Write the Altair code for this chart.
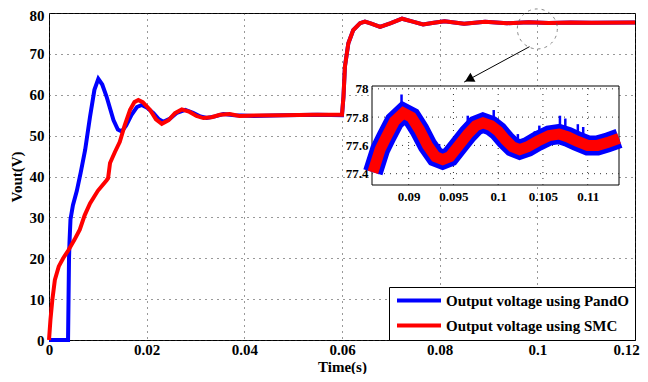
import altair as alt
import pandas as pd

FONT = "Liberation Serif"

# ---------------- main series (Time in s, Vout in V) ----------------
pando_t = [0.0, 0.0039, 0.0040, 0.0041, 0.0042, 0.0044, 0.0049, 0.0057, 0.0065, 0.0074,
           0.0084, 0.0093, 0.0101, 0.0109, 0.0118, 0.0132, 0.0141, 0.0149, 0.0158, 0.0169,
           0.0180, 0.0190, 0.0201, 0.0214, 0.0225, 0.0234, 0.0248, 0.0262, 0.0279, 0.0295,
           0.0310, 0.0323, 0.0340, 0.0357, 0.0380, 0.0420, 0.0480, 0.0550, 0.0600,
           0.0603, 0.0606, 0.0613, 0.0623, 0.0637, 0.0647, 0.0660, 0.0678, 0.0700, 0.0723,
           0.0745, 0.0766, 0.0788, 0.0810, 0.0830, 0.0850, 0.0893, 0.0938, 0.0982, 0.1023,
           0.1068, 0.1111, 0.1200]
pando_v = [0.0, 0.0, 10.0, 20.0, 24.0, 29.5, 33.0, 36.5, 41.0, 46.5,
           54.6, 61.2, 63.9, 62.5, 59.5, 53.8, 51.5, 51.0, 52.5, 55.1,
           57.0, 57.5, 56.8, 55.5, 54.0, 53.4, 54.2, 55.6, 56.3, 55.6,
           54.7, 54.3, 54.7, 55.3, 55.0, 54.8, 55.0, 55.1, 55.0,
           59.5, 66.9, 72.6, 75.8, 77.5, 77.9, 77.4, 76.6, 77.5, 78.6,
           77.9, 77.2, 77.6, 78.0, 77.7, 77.35, 77.83, 77.50, 77.76, 77.57,
           77.68, 77.60, 77.68]

smc_t = [0.0, 0.0003, 0.0007, 0.0012, 0.0020, 0.0029, 0.0040, 0.0052, 0.0063, 0.0073,
         0.0084, 0.0100, 0.0118, 0.0121, 0.0125, 0.0135, 0.0145, 0.0155, 0.0166, 0.0175,
         0.0183, 0.0192, 0.0207, 0.0219, 0.0231, 0.0245, 0.0258, 0.0272, 0.0288, 0.0302,
         0.0316, 0.0333, 0.0350, 0.0370, 0.0390, 0.0420, 0.0480, 0.0540, 0.0600,
         0.0603, 0.0606, 0.0613, 0.0623, 0.0637, 0.0647, 0.0660, 0.0678, 0.0700, 0.0723,
         0.0745, 0.0766, 0.0788, 0.0810, 0.0830, 0.0850, 0.0893, 0.0938, 0.0982, 0.1023,
         0.1068, 0.1111, 0.1200]
smc_v = [0.0, 5.0, 10.0, 14.7, 18.0, 20.0, 22.0, 24.5, 27.0, 30.5,
         33.4, 36.5, 39.1, 39.6, 43.3, 46.0, 48.5, 52.5, 56.3, 58.2,
         58.7, 58.2, 56.3, 54.0, 52.9, 53.8, 55.5, 56.4, 55.8, 54.8,
         54.3, 54.5, 55.1, 55.3, 54.8, 54.9, 55.0, 55.1, 55.1,
         59.5, 66.9, 72.6, 75.8, 77.5, 77.9, 77.4, 76.6, 77.5, 78.6,
         77.9, 77.2, 77.6, 78.0, 77.7, 77.35, 77.83, 77.50, 77.76, 77.57,
         77.68, 77.60, 77.68]

# ---------------- zoomed detail (inset) ----------------
zoom_t = [0.0860, 0.0868, 0.0875, 0.0884, 0.0894, 0.0903, 0.0912, 0.0921, 0.0930, 0.0938,
          0.0946, 0.0956, 0.0966, 0.0975, 0.0983, 0.0992, 0.1000, 0.1008, 0.1016, 0.1024,
          0.1033, 0.1044, 0.1057, 0.1068, 0.1078, 0.1088, 0.1100, 0.1111, 0.1122, 0.1135]
pando_zoom_v = [77.41, 77.57, 77.66, 77.77, 77.83, 77.80, 77.71, 77.60, 77.52, 77.50,
                77.52, 77.60, 77.68, 77.74, 77.76, 77.74, 77.70, 77.64, 77.59, 77.57,
                77.59, 77.63, 77.67, 77.68, 77.66, 77.63, 77.60, 77.60, 77.62, 77.65]
smc_zoom_v = [77.41, 77.57, 77.66, 77.77, 77.83, 77.80, 77.71, 77.60, 77.52, 77.50,
              77.52, 77.60, 77.68, 77.74, 77.76, 77.74, 77.70, 77.64, 77.59, 77.57,
              77.59, 77.63, 77.67, 77.68, 77.66, 77.63, 77.60, 77.60, 77.62, 77.65]
spike_t = [0.08756, 0.0892, 0.0934, 0.0966, 0.0995, 0.1022, 0.1041, 0.1046, 0.1069, 0.1075, 0.1089, 0.1095]
spike_base = [77.66, 77.83, 77.51, 77.68, 77.73, 77.57, 77.60, 77.62, 77.68, 77.68, 77.63, 77.62]
spike_top = [77.78, 77.96, 77.61, 77.81, 77.85, 77.68, 77.70, 77.74, 77.81, 77.79, 77.75, 77.73]

# ---------------- axes ----------------
x_ticks = [0, 0.02, 0.04, 0.06, 0.08, 0.1, 0.12]
y_ticks = [0, 10, 20, 30, 40, 50, 60, 70, 80]
zoom_x_domain = [0.0859, 0.1135]
zoom_y_domain = [77.32, 78.02]
zoom_x_ticks = [0.09, 0.095, 0.1, 0.105, 0.11]
zoom_y_ticks = [77.4, 77.6, 77.8, 78]

# annotations (data coordinates of the main axes)
circle_t = [0.1]
circle_v = [76.1]
arrow_t = [0.0984]
arrow_v = [71.76]
arrow_t2 = [0.0850]
arrow_v2 = [63.1]
head_t = [0.08600]
head_v = [63.75]

series_names = ["Output voltage using PandO", "Output voltage using SMC"]
series_colors = ["#0000ff", "#ff0000"]

W, H = 586, 327
inset_x_px = [323, 570]
inset_y_px = [172, 73]

LABEL_EXPR = "datum.value + ''"

lbl = dict(labelFont=FONT, labelFontWeight="bold", labelColor="black",
           titleFont=FONT, titleFontWeight="bold", titleColor="black",
           labelFlush=False, labelOverlap=False)

X_MAIN = alt.X("t:Q", scale=alt.Scale(domain=[0, 0.12], nice=False, zero=False),
               axis=alt.Axis(values=x_ticks, labelExpr=LABEL_EXPR, title="Time(s)", grid=True,
                             gridDash=[1, 5], gridColor="#333", gridWidth=1,
                             domain=False, ticks=False, labelPadding=2,
                             labelOffset={"condition": {"test": "datum.value == 0.12", "value": -9},
                                          "value": 0},
                             titleBaseline="alphabetic", titleY=31,
                             labelFontSize=15, titleFontSize=15, **lbl))
Y_MAIN = alt.Y("v:Q", scale=alt.Scale(domain=[0, 80], nice=False, zero=False),
               axis=alt.Axis(values=y_ticks, labelExpr=LABEL_EXPR, title="Vout(V)", grid=True,
                             gridDash=[1, 5], gridColor="#333", gridWidth=1,
                             domain=False, ticks=False, labelPadding=5, titlePadding=5,
                             labelOffset={"condition": {"test": "datum.value == 80", "value": 2},
                                          "value": 0},
                             labelFontSize=15, titleFontSize=15, **lbl))

color = alt.Color("series:N",
                  scale=alt.Scale(domain=series_names, range=series_colors),
                  legend=alt.Legend(title=None, orient="bottom-right", offset=0,
                                    padding=6, strokeColor="black", fillColor="white",
                                    cornerRadius=0, symbolType="stroke", symbolSize=1936,
                                    symbolStrokeWidth=4, clipHeight=15, rowPadding=9,
                                    labelOffset=3, labelFont=FONT, labelFontSize=15,
                                    labelFontWeight="bold", labelColor="black",
                                    labelLimit=400,
                                    labelExpr="datum.label + '\u00a0\u00a0\u00a0\u00a0'"))

df_p = pd.DataFrame({"t": pando_t, "v": pando_v, "series": series_names[0]})
df_s = pd.DataFrame({"t": smc_t, "v": smc_v, "series": series_names[1]})

blue = alt.Chart(df_p).mark_line(strokeWidth=4).encode(x=X_MAIN, y=Y_MAIN, color=color)
red = alt.Chart(df_s).mark_line(strokeWidth=4).encode(x=X_MAIN, y=Y_MAIN, color=color)

circle = alt.Chart(pd.DataFrame({"t": circle_t, "v": circle_v})).mark_point(
    shape="circle", size=1600, filled=False, color="#555", strokeWidth=1,
    strokeDash=[3, 4]).encode(x=X_MAIN, y=Y_MAIN)
arrow = alt.Chart(pd.DataFrame({"t": arrow_t, "v": arrow_v, "t2": arrow_t2, "v2": arrow_v2})
                  ).mark_rule(color="black", strokeWidth=1).encode(
    x=X_MAIN, y=Y_MAIN, x2="t2:Q", y2="v2:Q")
head = alt.Chart(pd.DataFrame({"t": head_t, "v": head_v})).mark_point(
    shape="triangle-up", size=110, filled=True, color="black", opacity=1,
    angle=241).encode(x=X_MAIN, y=Y_MAIN)

main = alt.layer(blue, red, circle, arrow, head)

# ---------------- inset ----------------
X_Z = alt.X("t:Q", scale=alt.Scale(domain=zoom_x_domain, range=inset_x_px, nice=False, zero=False),
            axis=alt.Axis(orient="bottom", offset=inset_y_px[0] - H, values=zoom_x_ticks,
                          labelExpr=LABEL_EXPR, title=None, grid=False, domain=False, ticks=False,
                          labelPadding=5, labelFontSize=13, **lbl))
Y_Z = alt.Y("v:Q", scale=alt.Scale(domain=zoom_y_domain, range=inset_y_px, nice=False, zero=False),
            axis=alt.Axis(orient="left", offset=-inset_x_px[0], values=zoom_y_ticks,
                          labelExpr=LABEL_EXPR, title=None, grid=False, domain=False, ticks=False,
                          labelPadding=4, labelFontSize=13, **lbl))

frame = alt.Chart(pd.DataFrame({"t": [zoom_x_domain[0]], "t2": [zoom_x_domain[1]],
                                "v": [zoom_y_domain[0]], "v2": [zoom_y_domain[1]]})
                  ).mark_rect(fill="white", stroke="black", strokeWidth=1).encode(
    x=X_Z, x2="t2:Q", y=Y_Z, y2="v2:Q")
vgrid = alt.Chart(pd.DataFrame({"t": zoom_x_ticks,
                                "v": [zoom_y_domain[0]] * len(zoom_x_ticks),
                                "v2": [zoom_y_domain[1]] * len(zoom_x_ticks)})
                  ).mark_rule(color="#333", strokeDash=[1, 5], strokeWidth=1).encode(
    x=X_Z, y=Y_Z, y2="v2:Q")
hgrid = alt.Chart(pd.DataFrame({"v": zoom_y_ticks,
                                "t": [zoom_x_domain[0]] * len(zoom_y_ticks),
                                "t2": [zoom_x_domain[1]] * len(zoom_y_ticks)})
                  ).mark_rule(color="#333", strokeDash=[1, 5], strokeWidth=1).encode(
    y=Y_Z, x=X_Z, x2="t2:Q")
zblue = alt.Chart(pd.DataFrame({"t": zoom_t, "v": pando_zoom_v})).mark_line(
    color="#0000ff", strokeWidth=20).encode(x=X_Z, y=Y_Z)
spikes = alt.Chart(pd.DataFrame({"t": spike_t, "v": spike_base, "v2": spike_top})).mark_rule(
    color="#0000ff", strokeWidth=2.5).encode(x=X_Z, y=Y_Z, y2="v2:Q")
zred = alt.Chart(pd.DataFrame({"t": zoom_t, "v": smc_zoom_v})).mark_line(
    color="#ff0000", strokeWidth=11).encode(x=X_Z, y=Y_Z)

inset = alt.layer(frame, vgrid, hgrid, zblue, spikes, zred)

chart = alt.layer(main, inset).resolve_scale(x="independent", y="independent").properties(
    width=W, height=H,
    autosize=alt.AutoSizeParams(type="none"),
    padding={"left": 41, "top": 5, "right": 5, "bottom": 34},
    background="white",
).configure_view(stroke="black", strokeWidth=1)

chart.save("out.html", embed_options={"renderer": "svg", "actions": False})
